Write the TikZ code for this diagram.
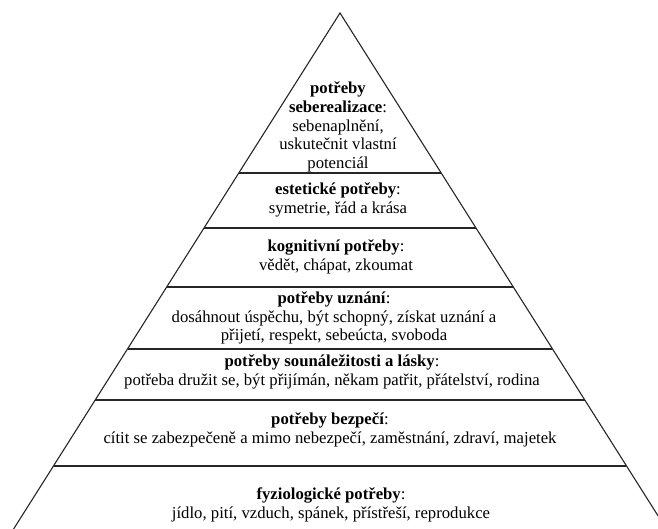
\documentclass[tikz,border=0pt]{standalone}
\usepackage{fontspec}
\setmainfont{Liberation Serif}
\usetikzlibrary{positioning}

\begin{document}
\begin{tikzpicture}[x=1pt,y=-1pt,
        edge/.style={line width=1.1pt,draw=black!85},
        level/.style={align=center,inner sep=0pt,font=\fontsize{16.7}{18.6}\selectfont}]
            \useasboundingbox (0,0) rectangle (658,529);
            \clip (0,0) rectangle (658,529);
            \coordinate (apex) at (340,13);
            \coordinate (bl) at (-6,560);
            \coordinate (br) at (686,560);

            \draw [edge] (bl) -- (apex) -- (br);
            \foreach \h in {173,228,287,349,400,466}
                \draw [edge] ({340-0.632*(\h-13)},\h) -- ({340+0.632*(\h-13)},\h);

            \node [level] (self) at (338,127) {\textbf{potřeby}\\\textbf{seberealizace}:\\sebenaplnění,\\uskutečnit vlastní\\potenciál};
            \node [level] (esthetic) at (338,200) {\textbf{estetické potřeby}:\\symetrie, řád a krása};
            \node [level] (cognitive) at (336,257) {\textbf{kognitivní potřeby}:\\vědět, chápat, zkoumat};
            \node [level] (esteem) at (334,318) {\textbf{potřeby uznání}:\\dosáhnout úspěchu, být schopný, získat uznání a\\přijetí, respekt, sebeúcta, svoboda};
            \node [level] (love) at (332,372) {\textbf{potřeby sounáležitosti a lásky}:\\potřeba družit se, být přijímán, někam patřit, přátelství, rodina};
            \node [level] (safety) at (330,430) {\textbf{potřeby bezpečí}:\\cítit se zabezpečeně a mimo nebezpečí, zaměstnání, zdraví, majetek};
            \node [level] (body) at (331,505) {\textbf{fyziologické potřeby}:\\jídlo, pití, vzduch, spánek, přístřeší, reprodukce};
        \end{tikzpicture}
\end{document}
